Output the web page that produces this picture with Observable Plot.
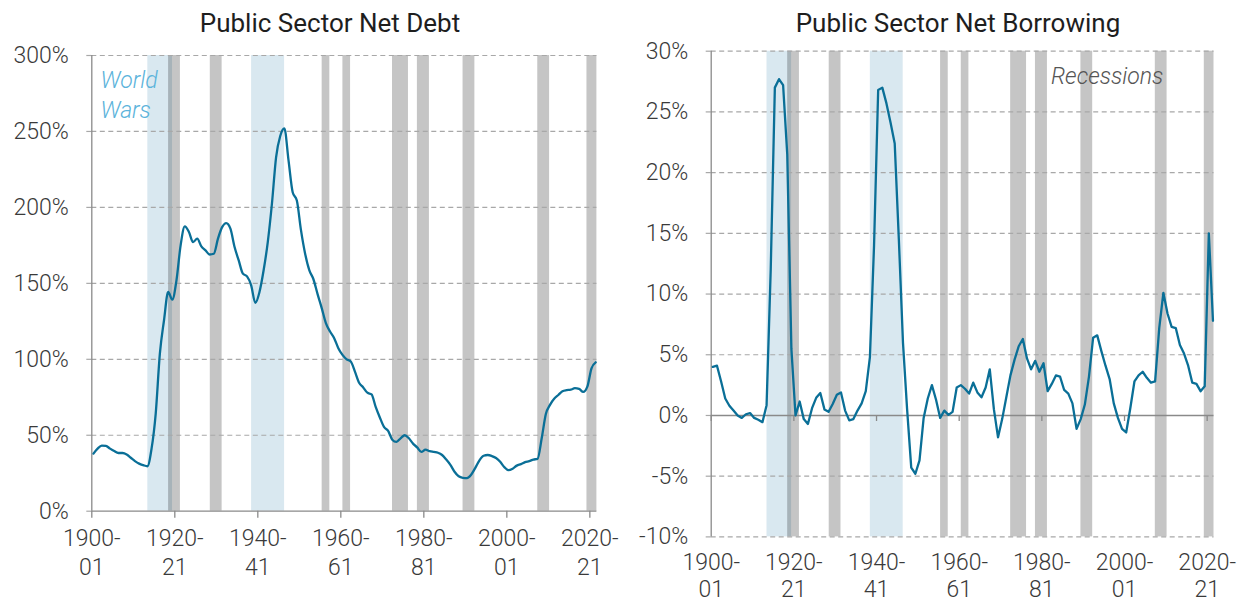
<!DOCTYPE html>
<html>
<head>
<meta charset="utf-8">
<script src="https://cdn.jsdelivr.net/npm/d3@7"></script>
<script src="https://cdn.jsdelivr.net/npm/@observablehq/plot@0.6"></script>
<style>
  html, body { margin: 0; padding: 0; background: #fff; }
  body { position: relative; width: 1245px; height: 603px; overflow: hidden; font-family: Roboto, "DejaVu Sans", sans-serif; }
  .title { position: absolute; top: 11px; font-size: 26px; line-height: 24px; color: #1e1e1e; text-align: center; white-space: nowrap; font-weight: 400; }
  .chart { position: absolute; top: 40px; }
  .chart svg { max-width: none; display: block; }
</style>
</head>
<body>
<div class="title" style="left:0px;width:660px">Public Sector Net Debt</div>
<div class="title" style="left:620px;width:676px">Public Sector Net Borrowing</div>
<div id="debt" class="chart" style="left:0px;width:620px"></div>
<div id="borrowing" class="chart" style="left:620px;width:625px"></div>
<script>
// ---- Data (fiscal years 1900-01 ... 2021-22, % of GDP) ----
const fiscalYears = d3.range(1900, 2022);

const netDebt = [
  37.9, 41.2, 43.2, 43.0, 41.2, 39.6, 38.3, 38.3, 37.4, 35.2,
  33.0, 31.3, 30.3, 29.6, 41.2, 64.3, 103.7, 125.7, 144.3, 139.3,
  152.0, 175.0, 187.5, 183.8, 177.2, 179.4, 174.3, 171.7, 169.0, 169.5,
  179.4, 187.0, 189.7, 186.0, 173.9, 165.1, 156.4, 154.6, 148.7, 137.1,
  144.3, 158.6, 177.2, 202.4, 233.0, 247.0, 252.0, 231.0, 210.0, 204.6,
  185.0, 169.5, 158.7, 152.7, 142.9, 133.7, 123.8, 118.3, 113.9, 107.3,
  102.9, 100.0, 98.5, 91.9, 84.6, 81.5, 78.0, 76.9, 68.7, 61.7,
  55.5, 52.9, 47.1, 45.6, 48.0, 50.0, 48.0, 44.5, 42.0, 39.0,
  40.5, 39.5, 39.0, 38.5, 37.0, 34.0, 30.5, 26.0, 23.0, 22.0,
  21.8, 24.0, 28.5, 33.5, 36.5, 37.0, 36.3, 35.0, 32.5, 29.0,
  27.0, 28.0, 30.0, 31.0, 32.3, 33.0, 34.0, 34.5, 48.0, 64.0,
  70.0, 74.0, 76.5, 79.0, 79.7, 80.0, 81.0, 80.5, 78.5, 82.0,
  94.0, 98.0
];

const netBorrowing = [
  4.0, 4.1, 2.8, 1.4, 0.8, 0.4, 0.0, -0.2, 0.1, 0.2,
  -0.2, -0.35, -0.55, 0.85, 12.0, 27.0, 27.7, 27.2, 21.5, 5.5,
  0.0, 1.15, -0.3, -0.7, 0.6, 1.45, 1.85, 0.5, 0.3, 0.95,
  1.7, 1.9, 0.4, -0.4, -0.3, 0.4, 1.0, 2.0, 4.8, 14.0,
  26.8, 27.0, 25.7, 24.1, 22.4, 14.5, 6.0, 0.5, -4.3, -4.8,
  -3.7, -0.2, 1.4, 2.5, 1.3, -0.2, 0.4, 0.05, 0.3, 2.3,
  2.5, 2.2, 1.8, 2.7, 1.9, 1.5, 2.3, 3.8, 0.5, -1.8,
  -0.3, 1.5, 3.3, 4.6, 5.7, 6.3, 4.7, 3.8, 4.5, 3.6,
  4.3, 2.0, 2.6, 3.3, 3.2, 2.1, 1.8, 1.0, -1.1, -0.3,
  0.9, 3.2, 6.4, 6.6, 5.3, 4.1, 3.0, 1.0, -0.2, -1.1,
  -1.4, 0.6, 2.8, 3.3, 3.6, 3.1, 2.7, 2.8, 7.2, 10.1,
  8.4, 7.3, 7.2, 5.8, 5.1, 4.1, 2.7, 2.6, 2.0, 2.4,
  15.0, 7.8
];

// shaded periods (start, end) in years
const worldWarStart = [1913.5, 1938.5];
const worldWarEnd   = [1919.45, 1946.45];
const recessionStart = [1918.5, 1928.55, 1955.5, 1960.5, 1972.45, 1978.45, 1989.45, 2007.45, 2019.3];
const recessionEnd   = [1921.35, 1931.4, 1957.35, 1962.35, 1976.3, 1981.35, 1992.3, 2010.3, 2021.7];

const xTickYears = [1900, 1920, 1940, 1960, 1980, 2000, 2020];
const debtTicks = [0, 50, 100, 150, 200, 250, 300];
const borrowingTicks = [-10, -5, 0, 5, 10, 15, 20, 25, 30];

// ---- Derived tables ----
const fiscalOffset = 0.4; // fiscal year runs from April
const debtData = fiscalYears.map((year, i) => ({year, value: netDebt[i]}));
const borrowingData = fiscalYears.map((year, i) => ({year, value: netBorrowing[i]}));
const wars = worldWarStart.map((s, i) => ({start: s, end: worldWarEnd[i]}));
const recessions = recessionStart.map((s, i) => ({start: s, end: recessionEnd[i]}));

const fmtYear = (d) => `${d}-\n${String(d + 1).slice(2)}`;
const fmtPct = (d) => `${d}%`;

const LINE = "#0a6f97";
const WAR = "#d9e8f0";
const GRID = "#a8a8a8";
const AXIS = "#8a8a8a";
const TEXT = "#3a3a3a";
const DASH = "5,3.5";

const baseStyle = {
  fontFamily: "Roboto, 'DejaVu Sans', sans-serif",
  fontSize: "23px",
  fontWeight: 300,
  color: TEXT,
  background: "transparent",
  overflow: "visible"
};

function shading(xMax) {
  return [
    Plot.rect(wars, {x1: "start", x2: (d) => Math.min(d.end, xMax), fill: WAR}),
    Plot.rect(recessions, {x1: "start", x2: (d) => Math.min(d.end, xMax), fill: "#000", fillOpacity: 0.228})
  ];
}

// ---- Left: Public Sector Net Debt ----
const debtXMax = 2021.7;
const debtPlot = Plot.plot({
  width: 620,
  height: 563,
  marginTop: 15,
  marginBottom: 92.3,
  marginLeft: 91.3,
  marginRight: 23.6,
  style: baseStyle,
  x: {domain: [1900, debtXMax]},
  y: {domain: [0, 300]},
  marks: [
    ...shading(debtXMax),
    Plot.gridY(debtTicks.filter((d) => d !== 0), {stroke: GRID, strokeOpacity: 1, strokeWidth: 1.2, strokeDasharray: DASH}),
    Plot.axisY({ticks: debtTicks, tickFormat: fmtPct, tickSize: 6, tickPadding: 17, stroke: GRID, strokeWidth: 1.2, strokeDasharray: DASH, label: null, fill: TEXT}),
    Plot.ruleX([1900], {stroke: AXIS, strokeWidth: 1.3}),
    Plot.ruleY([0], {stroke: AXIS, strokeWidth: 1.3}),
    Plot.axisX({ticks: xTickYears, tickFormat: fmtYear, tickSize: 7, tickPadding: 8, stroke: AXIS, strokeWidth: 1.3, lineHeight: 1.24, label: null, fill: TEXT}),
    Plot.line(debtData, {x: (d) => d.year + fiscalOffset, y: "value", stroke: LINE, strokeWidth: 2.3, curve: "monotone-x"}),
    Plot.text(["World\nWars"], {x: 1902.1, y: 292.3, text: (d) => d, textAnchor: "start", lineAnchor: "top", lineHeight: 1.28, fill: "#5bb3db", fontStyle: "italic", fontWeight: 300, fontSize: 23})
  ]
});
document.getElementById("debt").append(debtPlot);

// ---- Right: Public Sector Net Borrowing ----
const borrowXMax = 2021.65;
const borrowingPlot = Plot.plot({
  width: 625,
  height: 563,
  marginTop: 10.7,
  marginBottom: 66.6,
  marginLeft: 90.7,
  marginRight: 31.5,
  style: baseStyle,
  x: {domain: [1900, borrowXMax]},
  y: {domain: [-10, 30]},
  marks: [
    ...shading(borrowXMax),
    Plot.gridY(borrowingTicks.filter((d) => d !== 0), {stroke: GRID, strokeOpacity: 1, strokeWidth: 1.2, strokeDasharray: DASH}),
    Plot.axisY({ticks: borrowingTicks, tickFormat: fmtPct, tickSize: 6, tickPadding: 17, stroke: GRID, strokeWidth: 1.2, strokeDasharray: DASH, label: null, fill: TEXT}),
    Plot.ruleX([1900], {stroke: AXIS, strokeWidth: 1.3}),
    Plot.ruleY([0], {stroke: AXIS, strokeWidth: 1.3}),
    Plot.ruleX(xTickYears, {y1: 0, y2: 0, insetBottom: -6, stroke: AXIS, strokeWidth: 1.3}),
    Plot.axisX({ticks: xTickYears, tickFormat: fmtYear, tickSize: 0, tickPadding: 13.5, lineHeight: 1.19, label: null, fill: TEXT}),
    Plot.line(borrowingData, {x: (d) => d.year + fiscalOffset, y: "value", stroke: LINE, strokeWidth: 2.3}),
    Plot.text(["Recessions"], {x: 1982.2, y: 28.66, text: (d) => d, textAnchor: "start", lineAnchor: "top", fill: "#555555", fontStyle: "italic", fontWeight: 300, fontSize: 23})
  ]
});
document.getElementById("borrowing").append(borrowingPlot);
</script>
</body>
</html>
